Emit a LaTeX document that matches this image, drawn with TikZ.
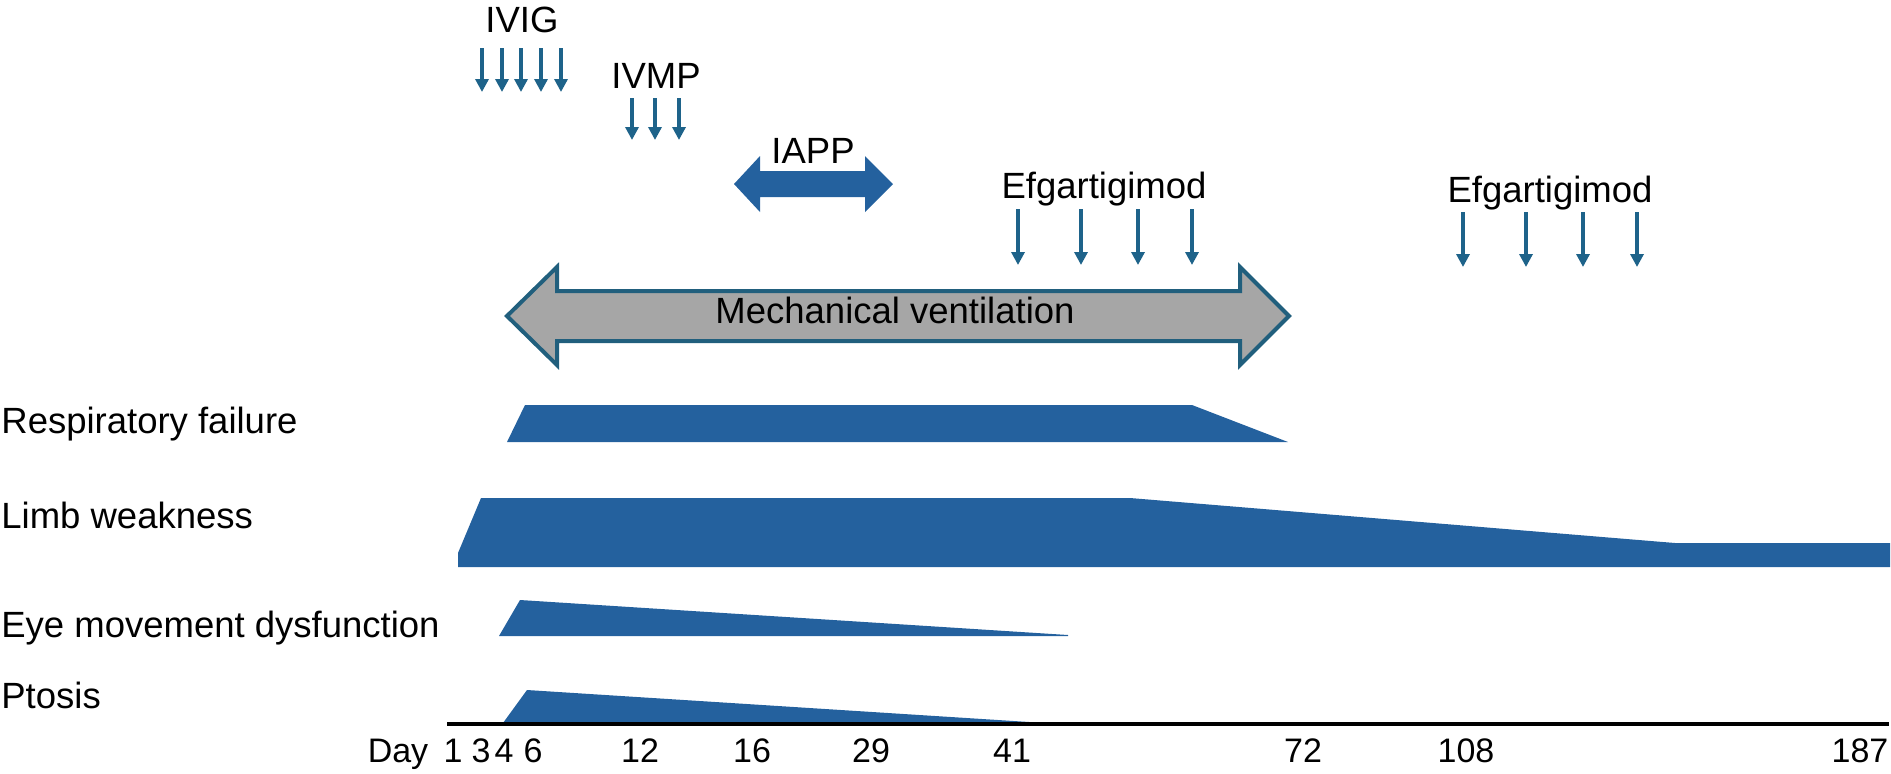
\documentclass[tikz,border=0pt]{standalone}
\usepackage{fontspec}
\setmainfont{Liberation Sans}
\usetikzlibrary{arrows.meta}
\definecolor{barblue}{RGB}{36,97,158}
\definecolor{doseblue}{RGB}{30,99,138}
\definecolor{ventgray}{RGB}{166,166,166}
\definecolor{ventedge}{RGB}{33,95,125}

\begin{document}
\begin{tikzpicture}[x=0.5pt, y=-0.5pt]
\tikzstyle{every node}=[inner sep=0, font=\fontsize{18.25}{22}\selectfont]
\tikzstyle{lbl}=[anchor=base west]
\tikzstyle{drug}=[anchor=base]
\tikzstyle{day}=[anchor=base, font=\fontsize{17}{20}\selectfont]
\tikzstyle{dose}=[draw=doseblue, line width=2pt, -{Triangle[width=6.5pt, length=6.5pt]}]
\tikzstyle{bar}=[fill=barblue]
\useasboundingbox (0,0) rectangle (1891,773);
% treatments
\draw node[drug] (ivig) at (522,32) {IVIG};
\draw node[drug] (ivmp) at (656,88) {IVMP};
\draw node[drug] (iapp) at (813,163) {IAPP};
\draw node[drug] (efg1) at (1104,198) {Efgartigimod};
\draw node[drug] (efg2) at (1550,202) {Efgartigimod};
\foreach \x [count=\i] in {482,502,521,541,561} {
  \coordinate (ivig-a\i) at (\x,48);
  \coordinate (ivig-b\i) at (\x,92);
  \draw[dose] (ivig-a\i) -- (ivig-b\i);
}
\foreach \x [count=\i] in {632,655,679} {
  \coordinate (ivmp-a\i) at (\x,98);
  \coordinate (ivmp-b\i) at (\x,140);
  \draw[dose] (ivmp-a\i) -- (ivmp-b\i);
}
\foreach \x [count=\i] in {1018,1081,1138,1192} {
  \coordinate (efg1-a\i) at (\x,209);
  \coordinate (efg1-b\i) at (\x,265);
  \draw[dose] (efg1-a\i) -- (efg1-b\i);
}
\foreach \x [count=\i] in {1463,1526,1583,1637} {
  \coordinate (efg2-a\i) at (\x,212);
  \coordinate (efg2-b\i) at (\x,267);
  \draw[dose] (efg2-a\i) -- (efg2-b\i);
}
\fill[barblue] (734,184) -- (760,156) -- (760,171) -- (865,171) -- (865,156) -- (893,184)
  -- (865,212) -- (865,197) -- (760,197) -- (760,212) -- cycle;
% ventilation
\draw[fill=ventgray, draw=ventedge, line width=2pt, line join=miter]
  (507,316) -- (557,267) -- (557,291) -- (1240,291) -- (1240,267) -- (1289,316)
  -- (1240,365) -- (1240,341) -- (557,341) -- (557,365) -- cycle;
\draw node[drug] (vent) at (895,323) {Mechanical ventilation};
% symptoms
\draw node[lbl] (resp) at (1,433) {Respiratory failure};
\draw node[lbl] (limb) at (1,528) {Limb weakness};
\draw node[lbl] (eye) at (1,637) {Eye movement dysfunction};
\draw node[lbl] (ptosis) at (1,708) {Ptosis};
\fill[bar] (507,442) -- (525,405) -- (1192,405) -- (1288,442) -- cycle;
\fill[bar] (458,567) -- (458,553) -- (481,498) -- (1130,498) -- (1675,543) -- (1890,543)
  -- (1890,567) -- cycle;
\fill[bar] (499,636) -- (520,600) -- (1068,635) -- (1068,636) -- cycle;
\fill[bar] (503,723) -- (527,690) -- (1045,723) -- cycle;
% time axis
\draw[line width=2pt] (447,724) -- (1889,724);
\draw node[day] (d0) at (398,762) {Day};
\foreach \x/\d in {453/1,481/3,504/4,533/6,640/12,752/16,871/29,1012/41,1303/72,1466/108,1860/187}
  \draw node[day] (d\d) at (\x,762) {\d};
\end{tikzpicture}
\end{document}
